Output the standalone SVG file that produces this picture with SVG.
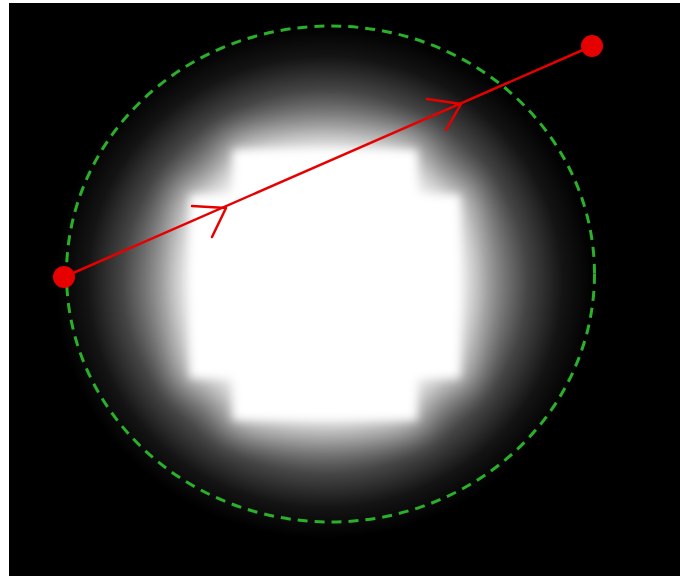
<svg xmlns="http://www.w3.org/2000/svg" width="688" height="576" viewBox="0 0 688 576">
<defs>
<style>
.ring{fill:none;stroke:#2ab02a;stroke-width:3;stroke-dasharray:10 7}
.ray{fill:none;stroke:#e60000;stroke-width:2.5;stroke-linecap:round;stroke-linejoin:round}
.pt{fill:#e60000}
</style>
<radialGradient id="halo" cx="325" cy="282" r="270" gradientUnits="userSpaceOnUse" gradientTransform="translate(325 282) scale(1 0.95) translate(-325 -282)">
<stop offset="0" stop-color="#fff"/>
<stop offset="0.45" stop-color="#fff"/>
<stop offset="0.6" stop-color="#9a9a9a"/>
<stop offset="0.75" stop-color="#454545"/>
<stop offset="0.88" stop-color="#141414"/>
<stop offset="1" stop-color="#000"/>
</radialGradient>
<filter id="mid" x="-50%" y="-50%" width="200%" height="200%">
<feGaussianBlur stdDeviation="16"/>
</filter>
<filter id="tight" x="-50%" y="-50%" width="200%" height="200%">
<feGaussianBlur stdDeviation="5"/>
</filter>
</defs>
<rect x="0" y="0" width="688" height="576" fill="#fff"/>
<rect x="9" y="3" width="671" height="573" fill="#000"/>
<g id="glow" fill="#fff">
<ellipse cx="325" cy="282" rx="272" ry="258" fill="url(#halo)"/>
<g filter="url(#mid)" opacity="0.6">
<rect x="228" y="140" width="194" height="290"/>
<rect x="180" y="188" width="290" height="197"/>
</g>
<g filter="url(#tight)">
<rect x="233" y="150" width="184" height="270"/>
<rect x="190" y="195" width="270" height="183"/>
</g>
</g>
<g id="boundary">
<ellipse class="ring" cx="330.5" cy="274" rx="264" ry="248"/>
</g>
<g id="connectors">
<line class="ray" x1="64" y1="277" x2="592" y2="46"/>
<polyline class="ray" points="192,206 226,208 212,237"/>
<polyline class="ray" points="427,99 461,104 446,130"/>
</g>
<g id="start">
<circle class="pt" cx="64" cy="277" r="11"/>
</g>
<g id="end">
<circle class="pt" cx="592" cy="46" r="11"/>
</g>
</svg>
